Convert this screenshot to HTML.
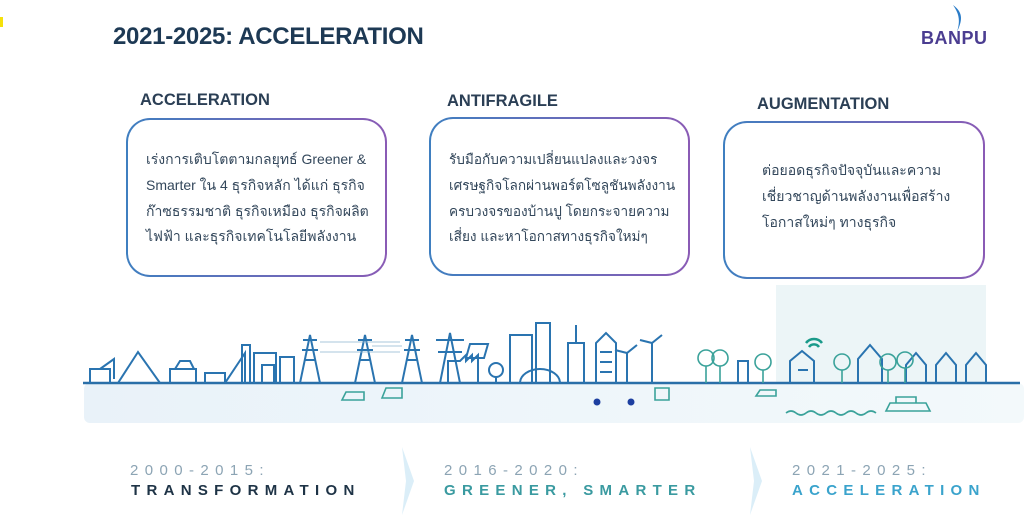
<!DOCTYPE html>
<html><head><meta charset="utf-8">
<style>
*{margin:0;padding:0;box-sizing:border-box}
body{width:1024px;height:532px;background:#fff;position:relative;overflow:hidden;font-family:"Liberation Sans",sans-serif}
.t{position:absolute;white-space:nowrap}
.title{left:113px;top:23px;font-size:24px;font-weight:bold;color:#1d3954;letter-spacing:-0.3px}
.h{font-size:16.5px;font-weight:bold;color:#2b3f55}
.box{position:absolute;border-radius:24px;padding:2px;background:linear-gradient(90deg,#3f7fc0,#8a5bb5)}
.box div{width:100%;height:100%;background:#fff;border-radius:22px}
.body{position:absolute;font-size:14px;color:#33475b;line-height:25.8px;white-space:nowrap;font-family:"Liberation Sans","DejaVu Sans",sans-serif}
.yr{font-size:15px;letter-spacing:6.4px;color:#8ca4b4}
.lb{font-size:15px;font-weight:bold;letter-spacing:6.3px}
</style></head><body>
<div style="position:absolute;left:0;top:17px;width:3px;height:10px;background:#f5e10a"></div>
<div class="t title">2021-2025: ACCELERATION</div>
<svg style="position:absolute;left:948px;top:4px" width="20" height="30"><path d="M5 1 C16 9 14 17 9 28 C12 18 12 11 5 1Z" fill="#2a7cc8"/></svg>
<div class="t" style="left:921px;top:28px;font-size:18px;font-weight:bold;color:#4b3d91;letter-spacing:0.5px">BANPU</div>

<div class="t h" style="left:140px;top:91px">ACCELERATION</div>
<div class="t h" style="left:447px;top:92px">ANTIFRAGILE</div>
<div class="t h" style="left:757px;top:95px">AUGMENTATION</div>

<div class="box" style="left:126px;top:118px;width:261px;height:159px"><div></div></div>
<div class="box" style="left:429px;top:117px;width:261px;height:159px"><div></div></div>
<div class="box" style="left:723px;top:121px;width:262px;height:158px"><div></div></div>

<div class="body" style="left:146px;top:147px">เร่งการเติบโตตามกลยุทธ์ Greener &amp;<br>Smarter ใน 4 ธุรกิจหลัก ได้แก่ ธุรกิจ<br>ก๊าซธรรมชาติ ธุรกิจเหมือง ธุรกิจผลิต<br>ไฟฟ้า และธุรกิจเทคโนโลยีพลังงาน</div>
<div class="body" style="left:449px;top:147px;font-size:13.6px">รับมือกับความเปลี่ยนแปลงและวงจร<br>เศรษฐกิจโลกผ่านพอร์ตโซลูชันพลังงาน<br>ครบวงจรของบ้านปู โดยกระจายความ<br>เสี่ยง และหาโอกาสทางธุรกิจใหม่ๆ</div>
<div class="body" style="left:762px;top:158px">ต่อยอดธุรกิจปัจจุบันและความ<br>เชี่ยวชาญด้านพลังงานเพื่อสร้าง<br>โอกาสใหม่ๆ ทางธุรกิจ</div>

<svg style="position:absolute;left:0;top:280px" width="1024" height="150" viewBox="0 280 1024 150">
<defs><linearGradient id="g" x1="0" x2="1"><stop offset="0" stop-color="#e9f2f9"/><stop offset="1" stop-color="#f3f9fb"/></linearGradient></defs>
<rect x="776" y="285" width="210" height="98" fill="#e4f1f3" opacity=".7"/>
<rect x="84" y="383" width="940" height="40" rx="6" fill="url(#g)"/>
<line x1="83" y1="383" x2="1020" y2="383" stroke="#2a6fa8" stroke-width="2.5"/>
<g fill="none" stroke="#2a74b0" stroke-width="2">
<path d="M118 383 L138 352 L160 383"/><path d="M90 383 v-14 h20 v14 M100 369 l14-10 v20"/>
<path d="M170 383 v-14 h26 v14 M175 369 l5-8 h10 l4 8"/>
<path d="M205 383 v-10 h20 v10 M225 383 l20 -30 v30"/><path d="M242 383 v-38 h8 v38 M254 383 v-30 h22 v30 M262 383 v-18 h12 v18 M280 383 v-26 h14 v26"/>
<path d="M300 383 l10-48 l10 48 M302 350 h16 M304 360 h12 M303 340 h14"/>
<path d="M355 383 l10-48 l10 48 M357 350 h16 M359 360 h12 M358 340 h14"/>
<path d="M402 383 l10-48 l10 48 M404 350 h16 M406 360 h12 M405 340 h14"/>
<path d="M440 383 l10-50 l10 50 M436 340 h28 M438 352 h24"/>
<path d="M320 342 h80 M320 352 h80 M372 346 h30" stroke="#8fb5d0" stroke-width="0.8"/>
<path d="M448 383 v-22 h12 l6-6 v6 l6-6 v6 l6-6 v28"/><path d="M466 358 l4-14 h18 l-4 14z"/>
<circle cx="496" cy="370" r="7"/><line x1="496" y1="377" x2="496" y2="383"/>
<path d="M510 383 v-48 h22 v48 M536 383 v-60 h14 v60 M520 383 a20 14 0 0 1 40 0"/>
<path d="M568 383 v-40 h16 v40 M576 343 v-18"/>
<path d="M596 383 v-40 l10-10 l10 10 v40 M600 352 h12 M600 362 h12 M600 372 h12"/>
<path d="M627 383 v-30 M615 350 l12 3 l10-8 M652 383 v-40 M640 340 l12 3 l10-8"/>
<path d="M738 383 v-22 h10 v22"/>
<path d="M790 383 v-22 l12-10 l12 10 v22 M798 370 h10"/>
<path d="M858 383 v-24 l12-14 l12 14 v24 M906 383 v-18 l10-12 l10 12 v18 M936 383 v-18 l10-12 l10 12 v18 M966 383 v-18 l10-12 l10 12 v18"/>
</g>
<g fill="none" stroke="#3aa29a" stroke-width="1.6">
<circle cx="706" cy="358" r="8"/><circle cx="720" cy="358" r="8"/><path d="M706 366 v17 M720 366 v17"/>
<circle cx="763" cy="362" r="8"/><circle cx="842" cy="362" r="8"/><circle cx="888" cy="362" r="8"/><circle cx="905" cy="360" r="8"/>
<path d="M763 370 v13 M842 370 v13 M888 370 v13 M905 368 v15"/>
<path d="M806 343 a10 10 0 0 1 16 0 M809 347 a6 6 0 0 1 10 0" stroke="#1a9a8a" stroke-width="2.5"/>
<path d="M342 400 h22 v-8 h-18 z M382 398 h20 v-10 h-16 z M655 400 h14 v-12 h-14z M756 396 h20 v-6 h-16z"/>
<path d="M786 413 q5 -4 10 0 q5 4 10 0 q5 -4 10 0 q5 4 10 0 q5 -4 10 0 q5 4 10 0 q5 -4 10 0 q5 4 10 0 q5 -4 10 0 M886 411 h44 l-4 -8 h-36z M896 403 v-6 h20 v6"/>
</g>
<circle cx="597" cy="402" r="3.5" fill="#1d3fa0"/><circle cx="631" cy="402" r="3.5" fill="#1d3fa0"/>
</svg>

<svg style="position:absolute;left:400px;top:447px" width="16" height="68"><path d="M2 0 L14 34 L2 68 L6 34Z" fill="#dbeef8"/></svg>
<svg style="position:absolute;left:748px;top:447px" width="16" height="68"><path d="M2 0 L14 34 L2 68 L6 34Z" fill="#dbeef8"/></svg>

<div class="t yr" style="left:130px;top:462px">2000-2015:</div>
<div class="t lb" style="left:131px;top:482px;color:#1e3346">TRANSFORMATION</div>
<div class="t yr" style="left:444px;top:462px">2016-2020:</div>
<div class="t lb" style="left:444px;top:482px;color:#3a9aa0">GREENER, SMARTER</div>
<div class="t yr" style="left:792px;top:462px">2021-2025:</div>
<div class="t lb" style="left:792px;top:482px;color:#3aa3cc">ACCELERATION</div>
</body></html>
